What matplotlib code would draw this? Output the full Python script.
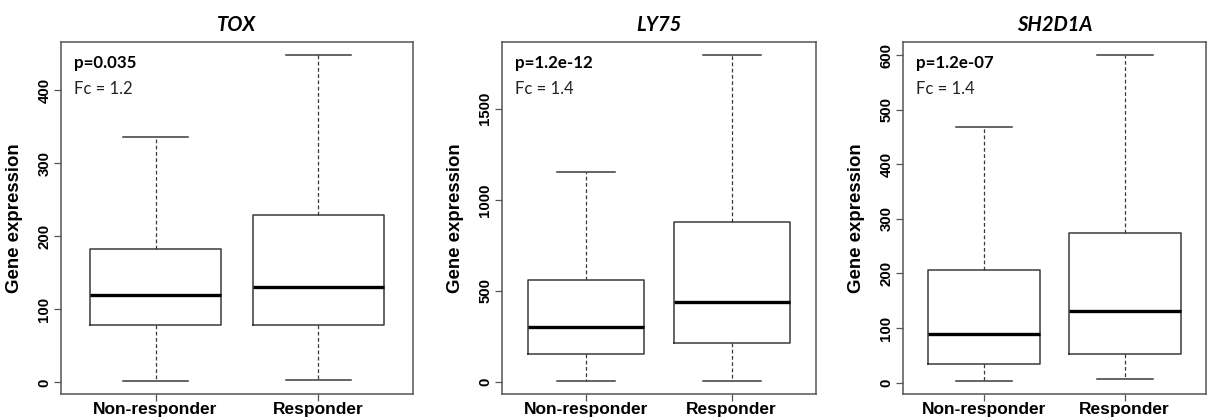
import matplotlib.pyplot as plt

genes = ['TOX', 'LY75', 'SH2D1A']
groups = ['Non-responder', 'Responder']
p_values = ['p=0.035', 'p=1.2e-12', 'p=1.2e-07']
fold_changes = ['Fc = 1.2', 'Fc = 1.4', 'Fc = 1.4']

# box stats per gene: [Non-responder, Responder]
whisker_low = [[2, 3], [5, 5], [3, 6]]
q1 = [[78, 78], [155, 216], [34, 53]]
median = [[119.5, 131], [300, 441], [89, 132]]
q3 = [[183, 229], [558, 879], [207, 274]]
whisker_high = [[336, 448], [1155, 1795], [468, 600]]

yticks = [[0, 100, 200, 300, 400], [0, 500, 1000, 1500], [0, 100, 200, 300, 400, 500, 600]]

W, H = 1208, 418
fig = plt.figure(figsize=(W / 100, H / 100), dpi=100)

# axes boxes in pixels (left, right)
panel_px = [(61, 413), (502, 816), (903, 1206)]
top_px, bottom_px = 42, 394

edge = '#3a3a3a'
spine = '#555555'

for i, gene in enumerate(genes):
    l, r = panel_px[i]
    ax = fig.add_axes([l / W, 1 - bottom_px / H, (r - l) / W, (bottom_px - top_px) / H])
    stats = []
    for j, g in enumerate(groups):
        stats.append(dict(label=g, whislo=whisker_low[i][j], q1=q1[i][j], med=median[i][j],
                          q3=q3[i][j], whishi=whisker_high[i][j], fliers=[]))
    ax.bxp(stats, positions=[1, 2], widths=0.8, capwidths=0.4, showfliers=False,
           boxprops=dict(color=edge, linewidth=1.1),
           medianprops=dict(color='black', linewidth=2.4),
           whiskerprops=dict(color=edge, linewidth=0.9, linestyle=(0, (3, 2))),
           capprops=dict(color=edge, linewidth=1.1))

    lo = min(whisker_low[i])
    hi = max(whisker_high[i])
    ext = (hi - lo) * 0.04
    ax.set_ylim(lo - ext, hi + ext)
    ax.set_xlim(0.42, 2.58)

    ax.set_yticks(yticks[i])
    ax.set_yticklabels([str(t) for t in yticks[i]], rotation=90, va='center',
                       fontsize=10.8, fontweight='bold', family='Liberation Sans')
    ax.set_xticks([1, 2])
    ax.set_xticklabels(groups, fontsize=12.5, fontweight='bold', family='Liberation Sans')
    ax.tick_params(axis='both', length=5, width=0.9, color=spine, direction='out')
    ax.tick_params(axis='y', pad=2)
    ax.tick_params(axis='x', pad=1)
    for s in ax.spines.values():
        s.set_color(spine)
        s.set_linewidth(1.1)

    ax.set_ylabel('Gene expression', fontsize=13.4, fontweight='bold', family='Liberation Sans')
    ax.yaxis.set_label_coords(-38 / (r - l), 0.5)
    ax.set_title(gene, fontsize=14.5, fontweight='bold', style='italic', family='Lato', pad=8)

    ax.text(13 / (r - l), 1 - (63 - top_px) / (bottom_px - top_px), p_values[i],
            transform=ax.transAxes, fontsize=12.2, fontweight='bold', family='Lato',
            ha='left', va='center')
    ax.text(13 / (r - l), 1 - (89 - top_px) / (bottom_px - top_px), fold_changes[i],
            transform=ax.transAxes, fontsize=12, family='Lato', color='#222222',
            ha='left', va='center')

fig.savefig('out.png', dpi=100)
